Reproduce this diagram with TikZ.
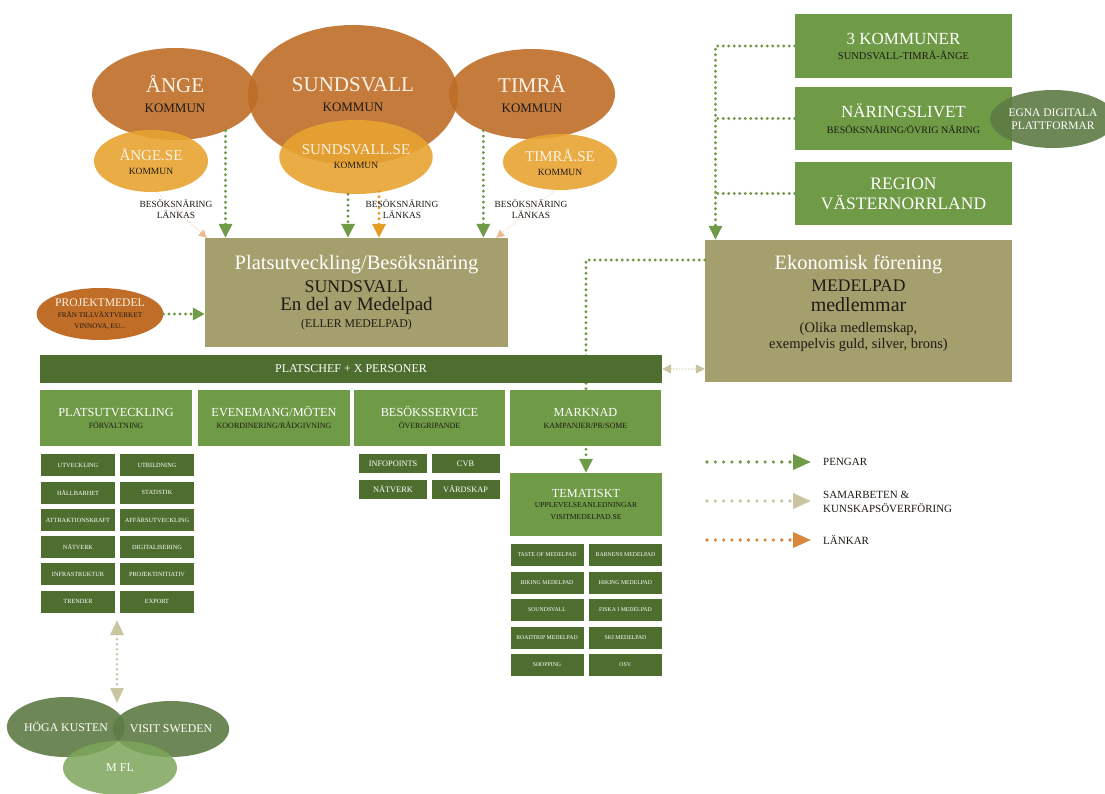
\documentclass[tikz,border=0pt]{standalone}
\usepackage{fontspec}
\setmainfont{Liberation Serif}
\usetikzlibrary{shapes.geometric,arrows.meta}

\definecolor{brun}{HTML}{BF6D27}
\definecolor{ljusorange}{HTML}{E8A431}
\definecolor{oliv}{HTML}{A59F6E}
\definecolor{mellangron}{HTML}{6F9A46}
\definecolor{morkgron}{HTML}{4E6E2F}
\definecolor{gragron}{HTML}{5E7C44}
\definecolor{ljusgron}{HTML}{7DA65B}
\definecolor{beige}{HTML}{CAC5A0}
\definecolor{lankorange}{HTML}{D8873C}
\definecolor{lankgul}{HTML}{E39B22}
\definecolor{kremvit}{HTML}{FBF3E6}
\definecolor{textsvart}{HTML}{1E1A14}

\newcommand{\storlek}[1]{\fontsize{#1}{#1}\selectfont}

\tikzset{
  kommun/.style={ellipse, fill=brun, fill opacity=0.9, text opacity=1, inner sep=0pt,
    align=center, text=textsvart, font=\fontsize{13}{20}\selectfont},
  webb/.style={ellipse, fill=ljusorange, fill opacity=0.9, text opacity=1, inner sep=0pt,
    align=center, text=textsvart, font=\fontsize{9.5}{14}\selectfont},
  olivruta/.style={rectangle, fill=oliv, inner sep=0pt, align=center, text=textsvart},
  gronruta/.style={rectangle, fill=mellangron, inner sep=0pt, align=center, text=textsvart},
  mork/.style={rectangle, fill=morkgron, inner sep=0pt, align=center, text=white},
  liten/.style={mork, minimum width=74, minimum height=22, font=\storlek{6.3}},
  temaruta/.style={mork, minimum width=73, minimum height=22, font=\storlek{5.8}},
  partner/.style={ellipse, fill=gragron, fill opacity=0.9, text opacity=1, inner sep=0pt,
    text=white, font=\storlek{11.8}},
  lank/.style={align=center, text=textsvart, inner sep=0pt, font=\fontsize{9.4}{11.5}\selectfont},
  legend/.style={anchor=west, align=left, text=textsvart, inner sep=0pt, font=\fontsize{11}{14}\selectfont},
  pengarlinje/.style={draw=mellangron, line width=3.2pt, line cap=round, dash pattern=on 0pt off 5.5pt},
  pengar/.style={pengarlinje, -{Triangle[length=14pt,width=13pt]}},
  samarbete/.style={draw=beige, line width=2.8pt, line cap=round, dash pattern=on 0pt off 5pt,
    {Triangle[length=15pt,width=13pt]}-{Triangle[length=15pt,width=13pt]}},
  lankfin/.style={draw=lankorange!55, line width=1.2pt, line cap=round, dash pattern=on 0pt off 3pt,
    -{Triangle[length=8pt,width=8pt]}},
  lankar/.style={draw=lankgul, line width=3.2pt, line cap=round, dash pattern=on 0pt off 5.5pt,
    -{Triangle[length=14pt,width=13pt]}}
}

\begin{document}
\begin{tikzpicture}[x=1pt,y=-1pt]
% Bakgrund
\fill[white] (0,0) rectangle (1105,794);
\useasboundingbox (0,0) rectangle (1105,794);

% Pengar fran foreningen till tematiskt (under rutorna)
\node[olivruta, minimum width=307, minimum height=142] (ekon) at (858.5,311) {};
\node[gronruta, minimum width=152, minimum height=63, font=\fontsize{7.6}{12}\selectfont] (tema) at (586,504.5)
  {{\storlek{12.3}\textcolor{white}{TEMATISKT}}\\[-1.5pt]UPPLEVELSEANLEDNINGAR\\VISITMEDELPAD.SE};
\draw[pengar] ([yshift=51pt]ekon.west) -| (tema.north);

% Kommunerna
\node[kommun, minimum width=166, minimum height=92] (ange) at (175,94)
  {{\storlek{21}\textcolor{kremvit}{ÅNGE}}\\KOMMUN};
\node[kommun, minimum width=166, minimum height=90] (timra) at (532,94)
  {{\storlek{21}\textcolor{kremvit}{TIMRÅ}}\\KOMMUN};
\node[kommun, minimum width=210, minimum height=140] (sundsvall) at (353,95)
  {{\storlek{21}\textcolor{kremvit}{SUNDSVALL}}\\KOMMUN};

% Webbplatser
\node[webb, minimum width=114, minimum height=62] (angese) at (151,161)
  {{\storlek{15}\textcolor{kremvit}{ÅNGE.SE}}\\KOMMUN};
\node[webb, minimum width=146, minimum height=74] (sundsvallse) at (356,157)
  {{\storlek{15}\textcolor{kremvit}{SUNDSVALL.SE}}\\KOMMUN};
\node[webb, minimum width=114, minimum height=56] (timrase) at (560,162)
  {{\storlek{15}\textcolor{kremvit}{TIMRÅ.SE}}\\KOMMUN};

% Platsutveckling
\node[olivruta, minimum width=303, minimum height=109, font=\fontsize{12}{18}\selectfont] (plats) at (356.5,292.5)
  {{\storlek{20.5}\textcolor{white}{Platsutveckling/Besöksnäring}}\\[5pt]
   {\storlek{17.8}SUNDSVALL}\\
   {\storlek{19}En del av Medelpad}\\[-1pt]
   {\storlek{11.8}(ELLER MEDELPAD)}};

% Pilar fran kommunerna
\draw[pengar] (ange.-36) -- (ange.-36 |- plats.north);
\draw[pengar] ([xshift=-8pt]sundsvallse.south) -- ([xshift=-8pt]sundsvallse.south |- plats.north);
\draw[pengar] (timra.-143) -- (timra.-143 |- plats.north);
\draw[lankar] ([xshift=23pt,yshift=3pt]sundsvallse.south) -- ([xshift=23pt]sundsvallse.south |- plats.north);
\draw[lankfin] (angese.-80) -- ([xshift=2pt]plats.north west);
\draw[lankfin] (timrase.-100) -- ([xshift=-12pt]plats.north east);

\node[lank] (lank1) at (176,209) {BESÖKSNÄRING\\LÄNKAS};
\node[lank] (lank2) at (402,209) {BESÖKSNÄRING\\LÄNKAS};
\node[lank] (lank3) at (531,209) {BESÖKSNÄRING\\LÄNKAS};

% Projektmedel
\node[ellipse, fill=brun, inner sep=0pt, minimum width=118, minimum height=52, align=center,
  text=textsvart, font=\fontsize{7.2}{11}\selectfont] (projekt) at (100,314)
  {{\storlek{11.6}\textcolor{kremvit}{PROJEKTMEDEL}}\\[-0.5pt]FRÅN TILLVÄXTVERKET\\VINNOVA, EU...};
\draw[pengar, -{Triangle[length=12pt,width=12pt]}] (projekt.east) -- (projekt.east -| plats.west);

% Ekonomisk forening
\node[align=center, text=textsvart, inner sep=0pt, font=\fontsize{14.5}{20}\selectfont] (ekontext)
  at ([yshift=8pt]ekon.center)
  {{\storlek{20.5}\textcolor{white}{Ekonomisk förening}}\\[2pt]
   {\storlek{17.6}MEDELPAD}\\
   {\storlek{20}medlemmar}\\[1pt]
   (Olika medlemskap,\\[-4pt]
   exempelvis guld, silver, brons)};

% Finansiarer
\node[gronruta, minimum width=217, minimum height=64, font=\fontsize{10.5}{15}\selectfont] (kom3) at (903.5,46)
  {{\storlek{17}\textcolor{white}{3 KOMMUNER}}\\SUNDSVALL-TIMRÅ-ÅNGE};
\node[gronruta, minimum width=217, minimum height=63, font=\fontsize{10}{16}\selectfont] (naring) at (903.5,118.5)
  {{\storlek{17}\textcolor{white}{NÄRINGSLIVET}}\\BESÖKSNÄRING/ÖVRIG NÄRING};
\node[gronruta, minimum width=217, minimum height=63, text=white, font=\fontsize{17.5}{20}\selectfont] (region) at (903.5,193.5)
  {REGION\\VÄSTERNORRLAND};
\node[partner, minimum width=116, minimum height=58, align=center, font=\fontsize{11.5}{13}\selectfont] (egna) at (1053,119)
  {EGNA DIGITALA\\PLATTFORMAR};

\coordinate (samla) at ([xshift=-143pt]ekon.north);
\draw[pengar] (kom3.west) -| (samla);
\draw[pengarlinje] (naring.west) -- (naring.west -| samla);
\draw[pengarlinje] (region.west) -- (region.west -| samla);

% Organisation
\node[mork, minimum width=622, minimum height=28, font=\storlek{12}] (platschef) at (351,369) {PLATSCHEF + X PERSONER};
\draw[samarbete, line width=1.4pt, dash pattern=on 0pt off 3pt,
  {Triangle[length=9pt,width=9pt]}-{Triangle[length=9pt,width=9pt]}] (platschef.east) -- (platschef.east -| ekon.west);

\node[gronruta, minimum width=152, minimum height=56, font=\fontsize{8}{12}\selectfont] (plu) at (116,418)
  {{\storlek{12.3}\textcolor{white}{PLATSUTVECKLING}}\\FÖRVALTNING};
\node[gronruta, minimum width=152, minimum height=56, font=\fontsize{8}{12}\selectfont] (even) at (274,418)
  {{\storlek{12.3}\textcolor{white}{EVENEMANG/MÖTEN}}\\KOORDINERING/RÅDGIVNING};
\node[gronruta, minimum width=151, minimum height=56, font=\fontsize{8}{12}\selectfont] (besok) at (429.5,418)
  {{\storlek{12.3}\textcolor{white}{BESÖKSSERVICE}}\\ÖVERGRIPANDE};
\node[gronruta, minimum width=151, minimum height=56, font=\fontsize{8}{12}\selectfont] (mark) at (585.5,418)
  {{\storlek{12.3}\textcolor{white}{MARKNAD}}\\KAMPANJER/PR/SOME};

% Platsutveckling, delar
\foreach \namn/\x/\y/\txt in {utv/78/465/UTVECKLING, utb/157/465/UTBILDNING,
    hall/78/492.5/HÅLLBARHET, stat/157/492.5/STATISTIK,
    attr/78/520/ATTRAKTIONSKRAFT, aff/157/520/AFFÄRSUTVECKLING,
    natv/78/547/NÄTVERK, dig/157/547/DIGITALISERING,
    infra/78/574/INFRASTRUKTUR, proj/157/574/PROJEKTINITIATIV,
    trend/78/601.5/TRENDER, exp/157/601.5/EXPORT}
  \node[liten] (\namn) at (\x,\y) {\txt};

% Besoksservice, delar
\foreach \namn/\x/\y/\txt in {info/393/463.5/INFOPOINTS, cvb/465.5/463.5/CVB,
    bnatv/393/489.5/NÄTVERK, vard/465.5/489.5/VÄRDSKAP}
  \node[mork, minimum width=68, minimum height=19, font=\storlek{8.3}] (\namn) at (\x,\y) {\txt};

% Tematiskt, delar
\foreach \namn/\x/\y/\txt in {taste/547/555/TASTE OF MEDELPAD, barn/625.5/555/BARNENS MEDELPAD,
    bike/547/582.5/BIKING MEDELPAD, hike/625.5/582.5/HIKING MEDELPAD,
    sound/547/610/SOUNDSVALL, fiska/625.5/610/FISKA I MEDELPAD,
    road/547/637.5/ROADTRIP MEDELPAD, ski/625.5/637.5/SKI MEDELPAD,
    shop/547/664.5/SHOPPING, osv/625.5/664.5/OSV.}
  \node[temaruta] (\namn) at (\x,\y) {\txt};

% Partners
\node[partner, minimum width=112, minimum height=60] (hoga) at (66,727) {HÖGA KUSTEN};
\node[partner, minimum width=112, minimum height=56] (visit) at (171,729) {VISIT SWEDEN};
\node[partner, fill=ljusgron, fill opacity=0.85, minimum width=114, minimum height=54, font=\storlek{12}] (mfl) at (120,768) {M FL};
\coordinate (samtop) at (117,620);
\coordinate (sambot) at (117,703);
\draw[samarbete] (samtop) -- (sambot);

% Teckenforklaring
\node[legend] (legpengar) at (823,462) {PENGAR};
\node[legend] (legsamarbete) at (823,502) {SAMARBETEN \&\\KUNSKAPSÖVERFÖRING};
\node[legend] (leglankar) at (823,540) {LÄNKAR};
\coordinate (l1) at (707,462);
\coordinate (l2) at (707,501);
\coordinate (l3) at (707,540);
\coordinate (lslut) at ([xshift=-12pt]legpengar.west);
\draw[pengarlinje, line width=3.6pt, dash pattern=on 0pt off 8.3pt, -{Triangle[length=18pt,width=15pt]}]
  (l1) -- (lslut);
\draw[draw=beige, line width=3.6pt, line cap=round, dash pattern=on 0pt off 8.3pt, -{Triangle[length=18pt,width=15pt]}]
  (l2) -- (l2 -| lslut);
\draw[draw=lankorange, line width=3.6pt, line cap=round, dash pattern=on 0pt off 8.3pt, -{Triangle[length=18pt,width=15pt]}]
  (l3) -- (l3 -| lslut);
\end{tikzpicture}
\end{document}
